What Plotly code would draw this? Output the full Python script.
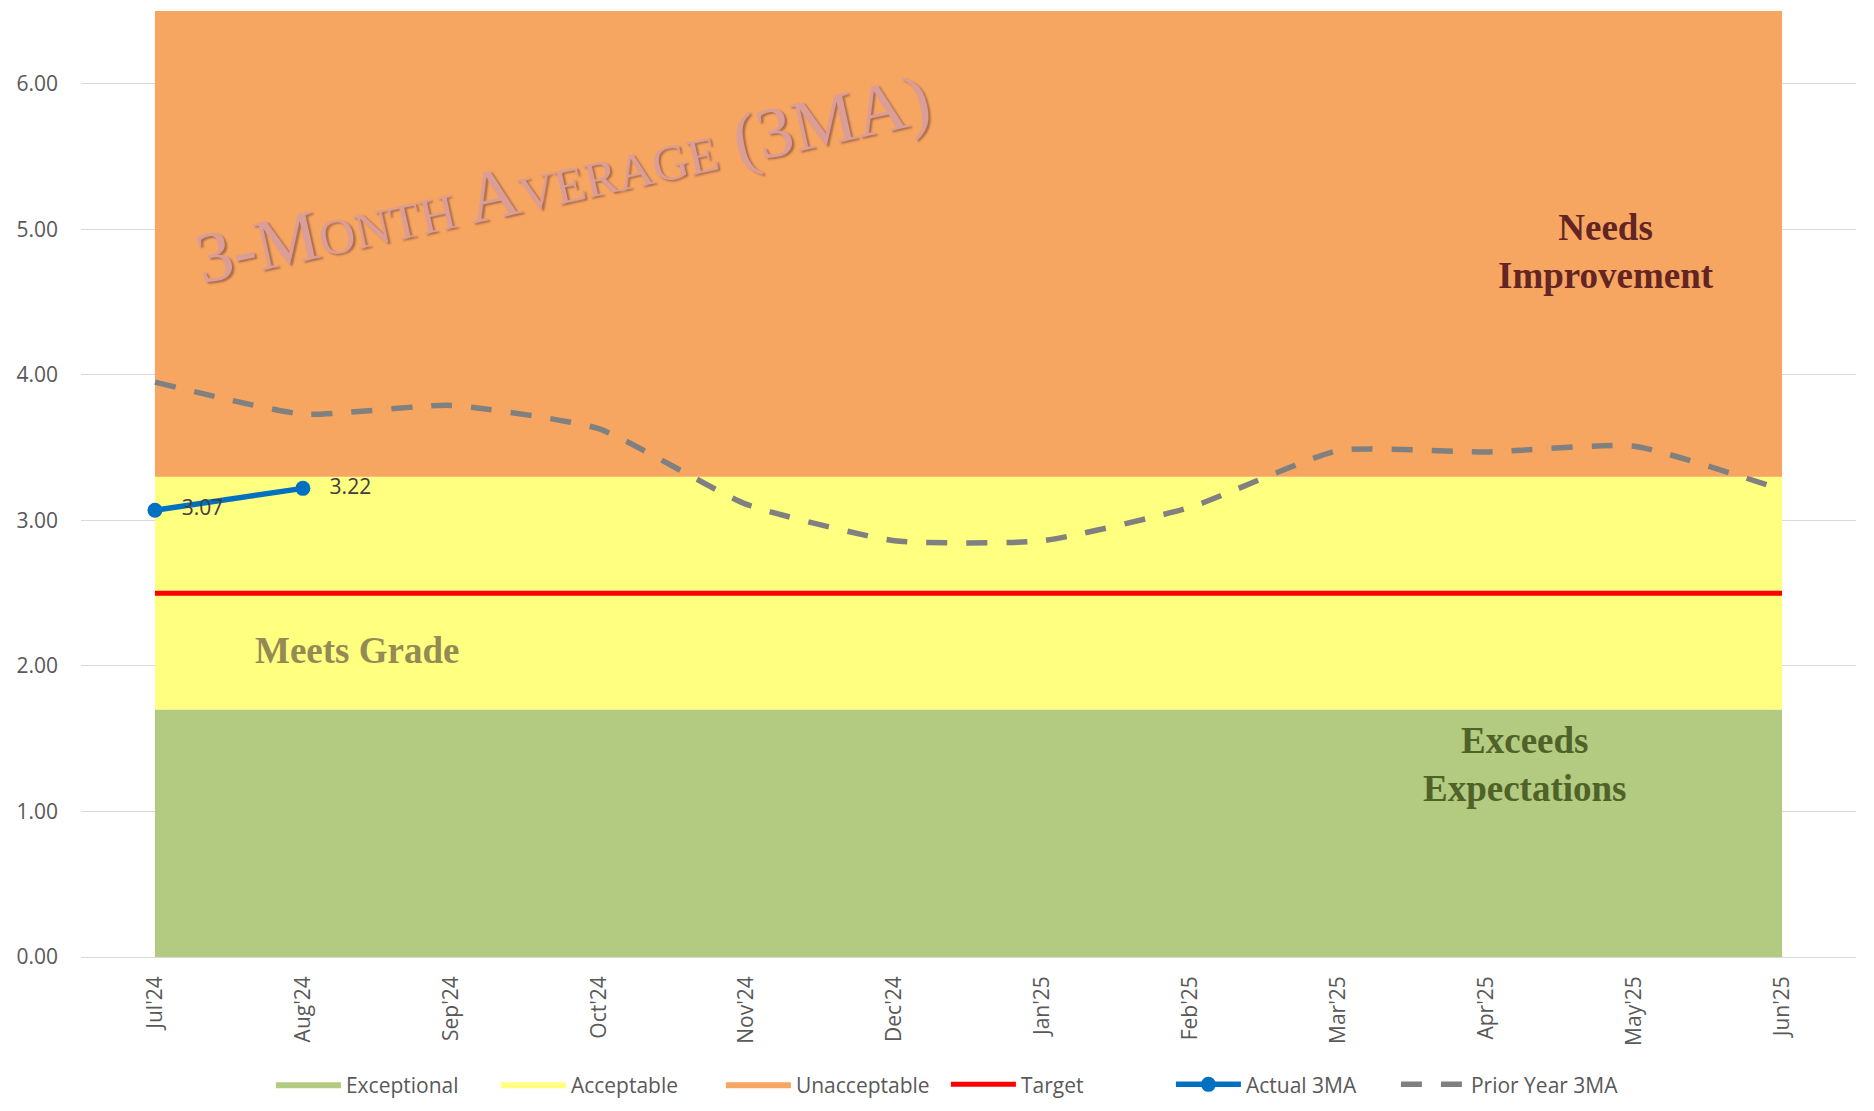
import plotly.graph_objects as go

months = ["Jul'24", "Aug'24", "Sep'24", "Oct'24", "Nov'24", "Dec'24",
          "Jan'25", "Feb'25", "Mar'25", "Apr'25", "May'25", "Jun'25"]

# stacked band thicknesses
exceptional = [1.7, 1.7, 1.7, 1.7, 1.7, 1.7, 1.7, 1.7, 1.7, 1.7, 1.7, 1.7]
acceptable = [1.6, 1.6, 1.6, 1.6, 1.6, 1.6, 1.6, 1.6, 1.6, 1.6, 1.6, 1.6]
unacceptable = [3.2, 3.2, 3.2, 3.2, 3.2, 3.2, 3.2, 3.2, 3.2, 3.2, 3.2, 3.2]
target = [2.5, 2.5, 2.5, 2.5, 2.5, 2.5, 2.5, 2.5, 2.5, 2.5, 2.5, 2.5]

actual_months = ["Jul'24", "Aug'24"]
actual_3ma = [3.07, 3.22]

prior_year_3ma = [3.95, 3.73, 3.79, 3.63, 3.11, 2.86, 2.86, 3.09, 3.48, 3.47, 3.51, 3.21]

TICK_FONT = "Open Sans"

fig = go.Figure()

band_specs = [("Exceptional", exceptional, "#B3CA81"),
              ("Acceptable", acceptable, "#FFFF80"),
              ("Unacceptable", unacceptable, "#F7A661")]
for name, vals, col in band_specs:
    fig.add_trace(go.Scatter(
        x=months, y=vals, name=name, mode="lines",
        stackgroup="bands", line=dict(width=0, color=col),
        fillcolor=col, hoverinfo="skip"))

fig.add_trace(go.Scatter(
    x=months, y=target, name="Target", mode="lines",
    line=dict(color="#FF0000", width=5)))

fig.add_trace(go.Scatter(
    x=actual_months, y=actual_3ma, name="Actual 3MA", mode="lines+markers+text",
    line=dict(color="#0070C0", width=5.5),
    marker=dict(color="#0070C0", size=15),
    texttemplate="   %{y:.2f}", textposition="middle right",
    textfont=dict(family=TICK_FONT, size=21, color="#404040")))

fig.add_trace(go.Scatter(
    x=months, y=prior_year_3ma, name="Prior Year 3MA", mode="lines",
    line=dict(color="#808080", width=5.5, dash="21px,19px", shape="spline", smoothing=0.5)))

fig.add_annotation(
    text="3-Month Average (3MA)", x=0.2716, y=0.822, xref="paper", yref="paper",
    xanchor="center", yanchor="middle",
    showarrow=False, textangle=-12.5,
    font=dict(family="Liberation Serif", size=72, color="#DA9D98",
              variant="small-caps", shadow="2px 2px 2px rgba(110,60,50,0.55)"))

fig.add_annotation(
    text="Needs<br>Improvement", x=0.859, y=0.746, xref="paper", yref="paper",
    xanchor="center", yanchor="middle", showarrow=False,
    font=dict(family="Liberation Serif", size=37, color="#632523", weight="bold"))

fig.add_annotation(
    text="Meets Grade", x=0.1555, y=0.3236, xref="paper", yref="paper",
    xanchor="center", yanchor="middle", showarrow=False,
    font=dict(family="Liberation Serif", size=37, color="#948A54", weight="bold"))

fig.add_annotation(
    text="Exceeds<br>Expectations", x=0.8135, y=0.203, xref="paper", yref="paper",
    xanchor="center", yanchor="middle", showarrow=False,
    font=dict(family="Liberation Serif", size=37, color="#4F6228", weight="bold"))

fig.update_layout(
    width=1866, height=1103,
    margin=dict(l=73, r=18, t=3, b=154),
    paper_bgcolor="white", plot_bgcolor="white",
    showlegend=True,
    legend=dict(orientation="h", x=0.107, xanchor="left", y=-0.135, yanchor="middle",
                traceorder="normal",
                font=dict(family=TICK_FONT, size=21, color="#595959"),
                entrywidth=145, itemwidth=65),
    xaxis=dict(type="category", range=[-0.5, 11.5], tickangle=-90,
               showgrid=False, showline=False, zeroline=False, ticks="",
               tickfont=dict(family=TICK_FONT, size=21, color="#595959"),
               ticklabelstandoff=14),
    yaxis=dict(range=[0, 6.5], dtick=1, tickformat=".2f",
               showgrid=True, gridcolor="#D9D9D9", gridwidth=1,
               zeroline=True, zerolinecolor="#D9D9D9", zerolinewidth=1,
               showline=False, ticks="",
               tickfont=dict(family=TICK_FONT, size=21, color="#595959"),
               ticklabelstandoff=22),
)

fig.write_html("out.html")
